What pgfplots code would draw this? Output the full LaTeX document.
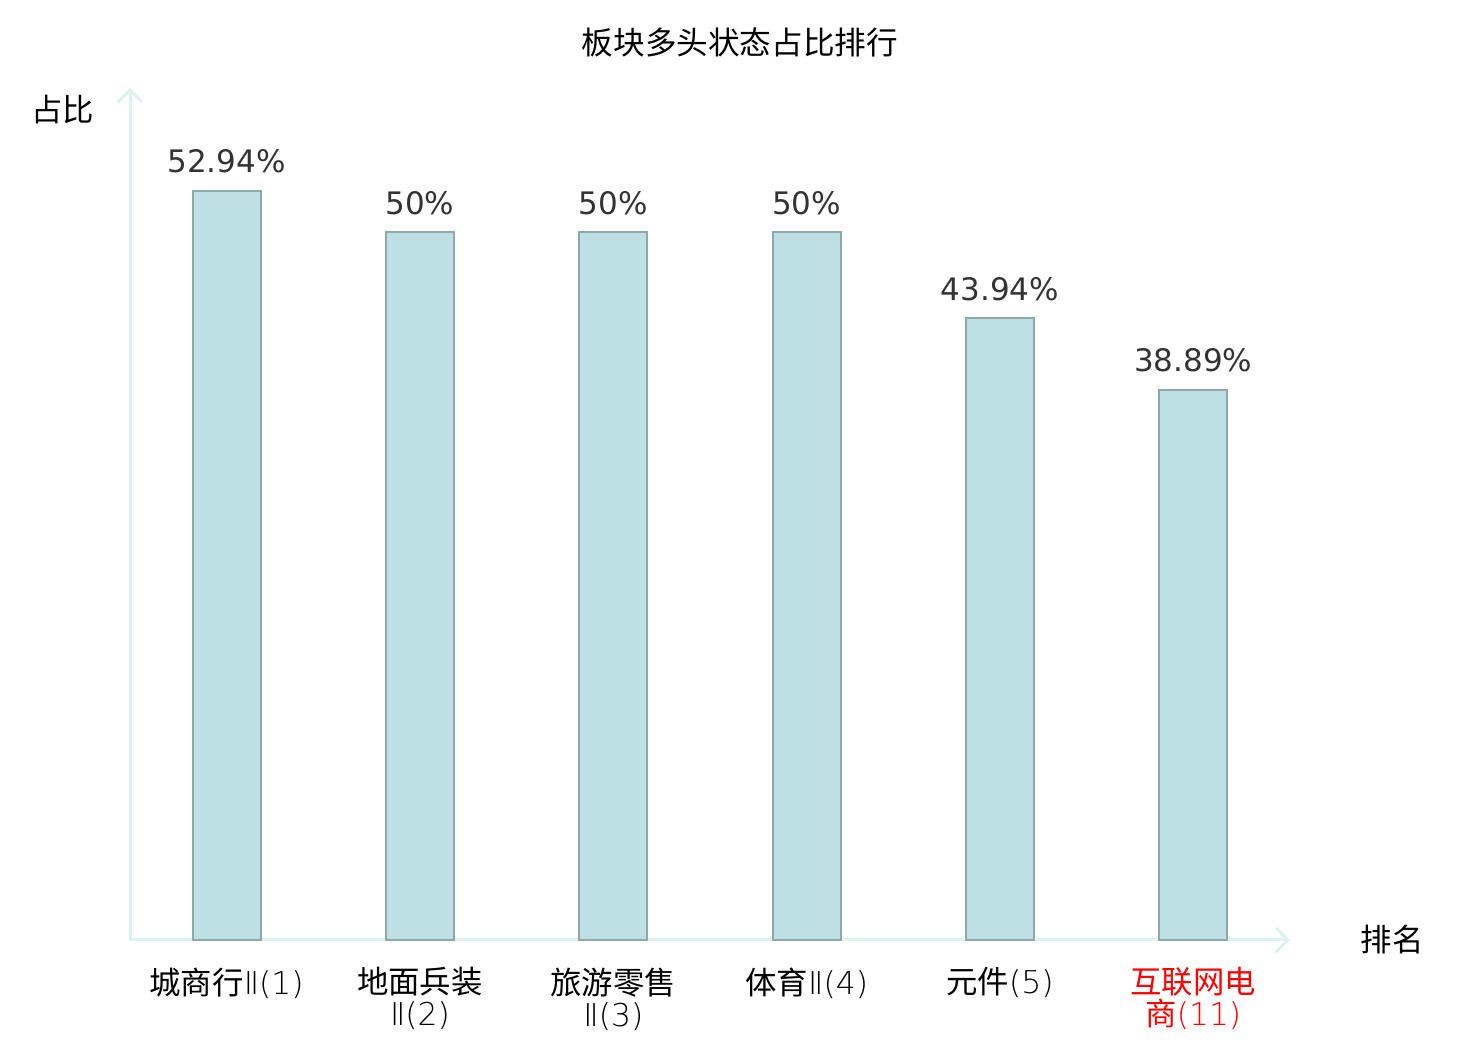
\documentclass[border=0pt]{standalone}
\usepackage{pgfplots}
\pgfplotsset{compat=1.18}
\usepackage{fontspec}
\setmainfont{DejaVu Sans}
\newfontfamily\cjk{Noto Sans CJK SC}
\newfontfamily\thin{DejaVu Sans ExtraLight}
\usetikzlibrary{arrows.meta}
\definecolor{barfill}{HTML}{BCE0E3}
\definecolor{baredge}{HTML}{8FA9AA}
\definecolor{axcol}{HTML}{DDF2EF}
\definecolor{valcol}{HTML}{333333}
\begin{document}
\begin{tikzpicture}
\useasboundingbox (0,0) rectangle (740pt,520pt);
\begin{axis}[
  at={(65pt,50pt)}, anchor=south west,
  scale only axis,
  width=580pt, height=426pt,
  xmin=-0.5, xmax=5.5, ymin=0, ymax=60.2,
  axis lines=left,
  axis line style={draw=axcol, line width=1.5pt, -{Straight Barb[length=6pt,width=12pt]}},
  ytick=\empty,
  xtick=data,
  xtick style={draw=none},
  xticklabels={
    {城商行{\thin Ⅱ(1)}},
    {地面兵装\\{\thin Ⅱ(2)}},
    {旅游零售\\{\thin Ⅱ(3)}},
    {体育{\thin Ⅱ(4)}},
    {元件{\thin (5)}},
    {\textcolor{red}{互联网电}\\\textcolor{red}{商{\thin (11)}}}},
  xticklabel style={font=\cjk\fontsize{15.7}{16}\selectfont, align=center, anchor=north, yshift=-6pt},
  clip=false,
  ybar, bar width=34pt,
  nodes near coords,
  point meta=explicit symbolic,
  nodes near coords style={font=\fontsize{15.5}{16}\selectfont, text=valcol, anchor=south, yshift=5pt},
]
\addplot[fill=barfill, draw=baredge, line width=1pt] coordinates {
  (0,52.94) [52.94\%]
  (1,50) [50\%]
  (2,50) [50\%]
  (3,50) [50\%]
  (4,43.94) [43.94\%]
  (5,38.89) [38.89\%]
};
\node[font=\cjk\fontsize{15.8}{16}\selectfont, anchor=center] at (rel axis cs:0.5,1) [xshift=15pt, yshift=23pt] {板块多头状态占比排行};
\node[font=\cjk\fontsize{15.7}{16}\selectfont, anchor=center] at (rel axis cs:0,1) [xshift=-33.5pt, yshift=-11pt] {占比};
\node[font=\cjk\fontsize{15.7}{16}\selectfont, anchor=center] at (rel axis cs:1,0) [xshift=51pt] {排名};
\end{axis}
\end{tikzpicture}
\end{document}
